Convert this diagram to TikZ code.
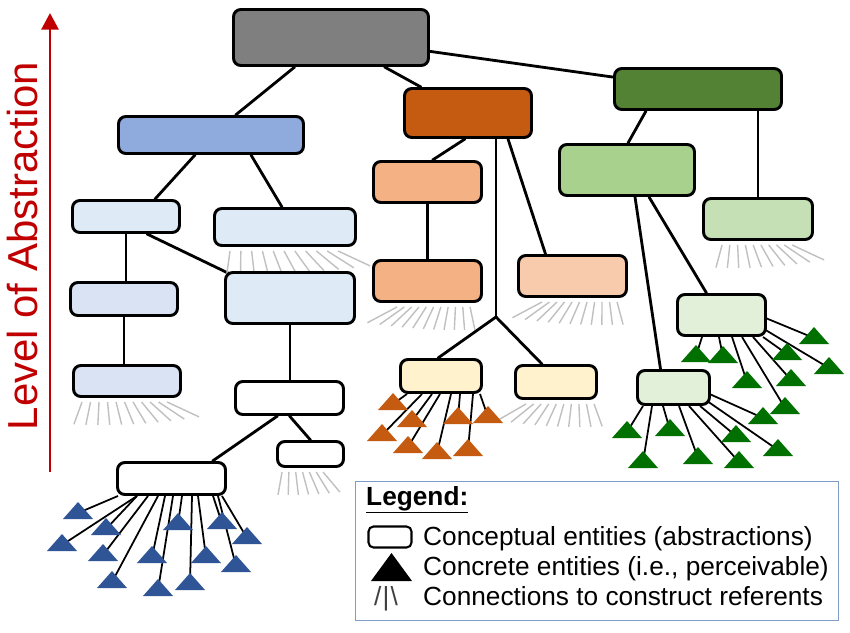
\documentclass[tikz,border=0pt]{standalone}
\usepackage{fontspec}
\setmainfont{Liberation Sans}
\usetikzlibrary{calc,arrows.meta,backgrounds}

\definecolor{topgray}{HTML}{7F7F7F}
\definecolor{bluemid}{HTML}{8FAADC}
\definecolor{bluepale}{HTML}{DEEBF7}
\definecolor{bluelav}{HTML}{DAE3F3}
\definecolor{orangedark}{HTML}{C55A11}
\definecolor{orangemid}{HTML}{F4B183}
\definecolor{orangepale}{HTML}{F8CBAD}
\definecolor{cream}{HTML}{FFF2CC}
\definecolor{greendark}{HTML}{548235}
\definecolor{greenmid}{HTML}{A9D18E}
\definecolor{greenpale}{HTML}{C5E0B4}
\definecolor{greenwhite}{HTML}{E2F0D9}
\definecolor{leafblue}{HTML}{2F5597}
\definecolor{leaforange}{HTML}{C55A11}
\definecolor{leafgreen}{HTML}{007000}
\definecolor{raygray}{HTML}{C0C0C0}
\definecolor{levelred}{HTML}{C00000}
\definecolor{legendframe}{HTML}{7F9BC9}

\newcommand{\lgdfont}{\fontsize{22.4}{26}\selectfont}

% fan of referent lines under a box: node, first x, last x, count, first angle, last angle
\newcommand{\rays}[6]{%
  \foreach \k in {1,...,#4}{
    \pgfmathsetmacro{\rx}{#2+(#3-#2)*(\k-1)/(#4-1)}
    \pgfmathsetmacro{\ra}{#5+(#6-#5)*(\k-1)/(#4-1)}
    \draw[ray] ($(#1.south west)+(\rx,4)$) -- ++(\ra:{23/sqrt(sin(\ra))});
  }}

% concrete entities hanging from a box: node, colour, list dx/dy/x/y
\newcommand{\leaves}[3]{%
  \begin{pgfonlayer}{background}
  \foreach \dx/\dy/\tx/\ty [count=\i] in {#3}{
    \coordinate (#1t\i) at (\tx,\ty);
    \draw[leaf] ($(#1.south)+(\dx,\dy)$) -- (#1t\i);}
  \end{pgfonlayer}
  \foreach \dx/\dy/\tx/\ty [count=\i] in {#3}
    \fill[#2] (#1t\i) ++(-15,6) -- ++(30,0) -- ++(-15,-17) -- cycle;
}

\tikzset{
  ent/.style 2 args={draw, line width=2.5pt, rounded corners=0.22cm, inner sep=0pt,
    minimum width=#1*0.03cm-0.09cm, minimum height=#2*0.03cm-0.09cm},
  link/.style={line width=2.4pt, line cap=round},
  leaf/.style={line width=1.5pt},
  ray/.style={line width=1.2pt, raygray},
}

\begin{document}
\begin{tikzpicture}[x=0.03cm, y=-0.03cm]
  \useasboundingbox (0,0) rectangle (850,632);

  % level arrow
  \coordinate (lvlLow) at (50,472);
  \coordinate (lvlHigh) at (50,13);
  \draw[line width=2.5pt, levelred, -{Triangle[width=0.51cm,length=0.5cm]}] (lvlLow) -- (lvlHigh);
  \node[rotate=90, anchor=base, text=levelred, font=\fontsize{35.8}{40}\selectfont] (level) at (37,246) {Level of Abstraction};

  % conceptual entities
  \node[ent={198}{59}, fill=topgray] (top) at (331,37.5) {};
  \node[ent={188}{40}, fill=bluemid] (blue1) at (211,135) {};
  \node[ent={110}{35}, fill=bluepale] (lbA) at (126,216.5) {};
  \node[ent={144}{40}, fill=bluepale] (lbB) at (285,227) {};
  \node[ent={110}{36}, fill=bluelav] (lbC) at (124,299) {};
  \node[ent={132}{54}, fill=bluepale] (lbD) at (290,298) {};
  \node[ent={110}{34}, fill=bluelav] (lbE) at (127,381) {};
  \node[ent={111}{36}, fill=white] (whF) at (289.5,398) {};
  \node[ent={69}{28}, fill=white] (whS) at (310.5,454) {};
  \node[ent={111}{35}, fill=white] (whB) at (171.5,478.5) {};
  \node[ent={130}{52}, fill=orangedark] (orD) at (468,113) {};
  \node[ent={111}{44}, fill=orangemid] (orM1) at (427.5,182) {};
  \node[ent={111}{44}, fill=orangemid] (orM2) at (427.5,281) {};
  \node[ent={111}{44}, fill=orangepale] (orL) at (572.5,276) {};
  \node[ent={84}{36}, fill=cream] (crL) at (441,376) {};
  \node[ent={84}{36}, fill=cream] (crR) at (556,382) {};
  \node[ent={170}{44}, fill=greendark] (grD) at (698,89) {};
  \node[ent={138}{54}, fill=greenmid] (grM) at (627,170) {};
  \node[ent={112}{44}, fill=greenpale] (grL) at (758,219) {};
  \node[ent={91}{44}, fill=greenwhite] (grXu) at (721.5,315) {};
  \node[ent={75}{37}, fill=greenwhite] (grXl) at (673.5,387.5) {};
  \coordinate (br) at ($(orD.south)+(28,178)$);

  \begin{pgfonlayer}{background}
    \draw[link] (top) -- (blue1);
    \draw[link] (top) -- (orD);
    \draw[link] (top) -- (grD);
    \draw[link] ($(blue1.south)+(-16,0)$) -- ($(lbA.north)+(29,0)$);
    \draw[link] ($(blue1.south)+(40,0)$) -- ($(lbB.north)+(-3,0)$);
    \draw[link] (lbA.south) -- (lbA.south |- lbC.north);
    \draw[link] ($(lbA.south)+(21,0)$) -- ($(lbD.north west)+(4,2)$);
    \draw[link] (lbC.south) -- (lbC.south |- lbE.north);
    \draw[link] (lbD.south) -- (lbD.south |- whF.north);
    \draw[link] (whF.south) -- (whS.north);
    \draw[link] ($(whF.south)+(-12,0)$) -- ($(whB.north)+(41,0)$);
    \draw[link] ($(orD.south)+(-3,0)$) -- ($(orM1.north)+(5,0)$);
    \draw[link] (orM1) -- (orM2);
    \draw[link] ($(orD.south)+(28,0)$) -- (br);
    \draw[link] (br) -- ($(crL.north)+(-3,0)$);
    \draw[link] (br) -- ($(crR.north)+(-14,0)$);
    \draw[link] ($(orD.south)+(40,0)$) -- ($(orL.north)+(-27,0)$);
    \draw[link] ($(grD.south)+(-52,0)$) -- ($(grM.north)+(1,0)$);
    \draw[link] (grL.north |- grD.south) -- (grL.north);
    \draw[link] ($(grM.south)+(8,0)$) -- ($(grXl.north)+(-13,0)$);
    \draw[link] ($(grM.south)+(22,0)$) -- ($(grXu.north)+(-15,0)$);
    % referent connections
    \rays{lbB}{17}{125}{11}{98}{25}
    \rays{lbE}{10}{95}{11}{110}{25}
    \rays{whS}{6}{47}{7}{100}{50}
    \rays{orM2}{25}{98}{11}{152}{78}
    \rays{orL}{25}{100}{11}{152}{75}
    \rays{crR}{12}{80}{10}{150}{70}
    \rays{grL}{20}{90}{10}{105}{25}
  \end{pgfonlayer}

  % concrete entities
  \leaves{whB}{leafblue}{-53.5/0/78/513, -34.5/0/106/529, -34.5/0/62/545, -23.5/0/103/555,
    -13.5/0/112/582, -6.5/0/152/557, 10.5/0/178/524, 1.5/0/158/590, 20.5/0/190/584,
    26.5/0/206/557, 41.5/0/222/523, 50.5/0/247/538, 46.5/0/236/566}
  \leaves{crL}{leaforange}{-34/0/393/404, -19/0/382/435, -9/0/412/421, -1/0/408/447,
    10/0/437/453, 19/0/458/418, 32/0/468/450, 39/0/488/417}
  \leaves{grXu}{leafgreen}{-19.5/0/696/356, -2.5/0/723/357, 10.5/0/747/382, 20.5/0/785/408,
    31.5/0/791/380, 41.5/0/787/354, 44/-19/814/338, 44/-7/829/368}
  \leaves{grXl}{leafgreen}{-30.5/0/627/432, -21.5/0/643/462, -10.5/0/670/430, 5.5/0/698/458,
    15.5/0/739/462, 26.5/0/736/436, 35/-4/778/450, 36/-12/763/418}

  % legend
  \node[draw=legendframe, line width=1.2pt, inner sep=0pt, anchor=north west,
    minimum width=14.49cm, minimum height=4.17cm] (legend) at (355,481) {};
  \node[anchor=base west, font=\lgdfont\bfseries, inner sep=0pt] (legT) at (366,505) {\underline{Legend:}};
  \node[ent={46}{24}, line width=1.8pt, rounded corners=0.15cm] (ico1) at (390,537) {};
  \node[anchor=base west, font=\lgdfont, inner sep=0pt] (leg1) at (423,545) {Conceptual entities (abstractions)};
  \coordinate (ico2) at (391.5,581);
  \fill (ico2) ++(-20.5,0) -- ++(41,0) -- ++(-20.5,-28) -- cycle;
  \node[anchor=base west, font=\lgdfont, inner sep=0pt] (leg2) at (423,575) {Concrete entities (i.e., perceivable)};
  \node[anchor=base west, font=\lgdfont, inner sep=0pt, text=black!75] (ico3) at (374,605) {/\kern1pt|\kern1pt\textbackslash};
  \node[anchor=base west, font=\lgdfont, inner sep=0pt] (leg3) at (423,605) {Connections to construct referents};
\end{tikzpicture}
\end{document}
